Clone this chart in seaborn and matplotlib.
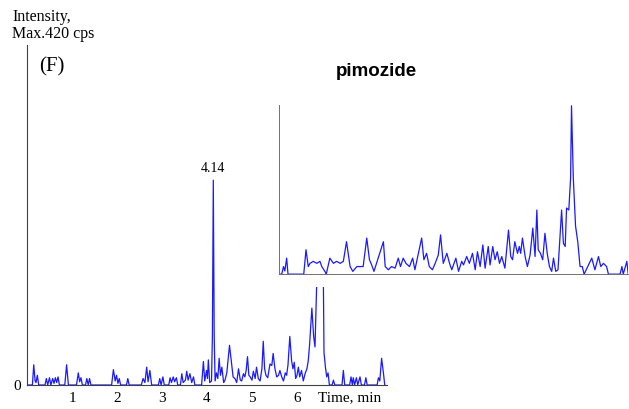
import matplotlib
matplotlib.use("Agg")
import matplotlib.pyplot as plt
import seaborn as sns
import pandas as pd
import numpy as np

# ---- chromatogram (F): retention time (min) and intensity (cps) ----
main_time = [
    0.00, 0.12, 0.15, 0.18, 0.20, 0.23, 0.26,
    0.40, 0.43, 0.46, 0.50, 0.53, 0.57, 0.60, 0.63, 0.66, 0.69, 0.72,
    0.84, 0.88, 0.92,
    1.10, 1.14, 1.17, 1.20, 1.23, 1.30, 1.33, 1.36, 1.39, 1.42,
    1.88, 1.92, 1.96, 1.99, 2.02, 2.05, 2.08,
    2.21, 2.24, 2.27,
    2.54, 2.58, 2.62, 2.66, 2.69, 2.73, 2.77,
    2.92, 2.95, 2.98, 3.02, 3.05, 3.15, 3.18, 3.21, 3.25, 3.28, 3.32, 3.35,
    3.41, 3.44, 3.47, 3.52, 3.55, 3.58, 3.62, 3.66, 3.70, 3.73,
    3.88, 3.92, 3.95, 3.99, 4.01, 4.03, 4.06, 4.10, 4.12, 4.14, 4.16, 4.18,
    4.21, 4.24, 4.27, 4.30, 4.33, 4.37, 4.40, 4.44, 4.50, 4.55, 4.58, 4.62,
    4.66, 4.70, 4.74, 4.77, 4.81, 4.84, 4.87, 4.90, 4.93, 4.96, 5.00, 5.03,
    5.07, 5.10, 5.14, 5.18, 5.22, 5.25, 5.28, 5.31, 5.35, 5.40, 5.44, 5.47,
    5.51, 5.55, 5.59, 5.62, 5.66, 5.70, 5.74, 5.77, 5.80, 5.84, 5.88, 5.91,
    5.94, 5.97, 6.00, 6.03, 6.06, 6.10, 6.14, 6.18, 6.22, 6.25, 6.28, 6.33,
    6.37, 6.40, 6.44, 6.47, 6.515, 6.56, 6.60, 6.63, 6.66, 6.69, 6.72,
    6.78, 6.81, 6.84, 7.00, 7.03, 7.06, 7.17, 7.20, 7.23, 7.25, 7.28, 7.32,
    7.35, 7.40, 7.43, 7.50, 7.53, 7.56, 7.78, 7.81, 7.84, 7.88, 7.92, 7.95,
]
main_cps = [
    0, 0, 25, 5, 3, 12, 0,
    0, 8, 0, 9, 0, 8, 2, 9, 3, 10, 0,
    0, 25, 0,
    0, 15, 4, 9, 0, 0, 8, 0, 8, 0,
    0, 19, 5, 12, 2, 8, 0,
    0, 8, 0,
    0, 8, 3, 22, 4, 18, 0,
    0, 8, 0, 10, 0, 0, 9, 3, 10, 4, 9, 0,
    0, 14, 3, 6, 17, 6, 14, 3, 10, 0,
    0, 29, 5, 18, 8, 31, 3, 5, 60, 253, 60, 5,
    15, 8, 33, 12, 22, 3, 6, 15, 49, 25, 10, 8,
    3, 20, 6, 5, 14, 10, 18, 35, 12, 10, 6, 17,
    8, 22, 8, 5, 20, 54, 20, 12, 9, 26, 24, 39,
    20, 10, 12, 18, 10, 5, 15, 12, 25, 60, 30, 20,
    28, 8, 12, 22, 10, 18, 5, 14, 20, 30, 50, 95,
    60, 47, 130, 300, 200, 290, 40, 23, 10, 15, 0,
    0, 6, 0, 0, 18, 0, 0, 10, 0, 9, 0, 9,
    0, 10, 0, 0, 9, 0, 0, 9, 5, 33, 15, 0,
]

# ---- pimozide trace (inset), relative intensity ----
pim_time = [
    0.00, 0.06, 0.10, 0.13, 0.17, 0.20,
    0.55, 0.60, 0.65, 0.69, 0.76, 0.84, 0.91, 0.95, 1.02, 1.05,
    1.13, 1.21, 1.28, 1.36, 1.43, 1.50, 1.58, 1.64, 1.73, 1.80, 1.87, 1.95,
    2.01, 2.06, 2.11, 2.32, 2.36, 2.43, 2.50, 2.58, 2.65, 2.70, 2.76, 2.82,
    2.90, 2.97, 3.02, 3.17, 3.22, 3.28, 3.34, 3.41, 3.47, 3.54, 3.59, 3.65,
    3.73, 3.79, 3.84, 3.93, 3.99, 4.06, 4.10, 4.17, 4.23, 4.30, 4.36, 4.41,
    4.47, 4.53, 4.58, 4.65, 4.69, 4.75, 4.80, 4.85, 4.90, 4.95, 5.02, 5.10,
    5.15, 5.19, 5.24, 5.30, 5.34, 5.37, 5.41, 5.47, 5.52, 5.58, 5.64, 5.69,
    5.73, 5.76, 5.81, 5.86, 5.91, 5.96, 6.01, 6.06, 6.10, 6.15, 6.20, 6.28,
    6.32, 6.36, 6.39, 6.44, 6.48, 6.50, 6.54, 6.59, 6.64, 6.69, 6.74, 6.78,
    6.95, 7.02, 7.10, 7.15, 7.21, 7.28, 7.32, 7.58, 7.62, 7.65, 7.73, 7.76,
]
pim_int = [
    0, 0, 1.9, 0.8, 4.0, 0,
    0, 6.1, 1.9, 2.7, 3.2, 2.7, 3.2, 1.9, 0.7, 0,
    4.0, 2.7, 3.2, 2.7, 3.2, 8.1, 1.9, 0.7, 1.9, 1.9, 1.9, 9.0,
    3.6, 2.3, 0.7, 8.1, 1.9, 1.1, 1.9, 1.5, 4.0, 1.9, 4.0, 2.7,
    1.9, 4.0, 1.1, 9.0, 3.6, 5.2, 1.9, 1.1, 2.7, 4.8, 9.8, 2.7,
    5.2, 2.7, 1.1, 4.0, 0.7, 3.2, 2.3, 4.4, 2.7, 5.2, 1.1, 5.6,
    1.9, 7.3, 1.5, 6.9, 2.3, 6.9, 3.6, 5.6, 2.7, 4.4, 1.5, 11.0,
    4.4, 3.6, 8.1, 5.2, 6.9, 5.2, 9.0, 4.4, 1.9, 4.8, 11.5, 4.4,
    16.0, 6.1, 5.2, 3.6, 10.2, 5.2, 1.9, 0.7, 4.0, 0.7, 1.1, 16.0,
    7.7, 6.9, 16.5, 16.0, 24.0, 42.0, 24.0, 12.0, 8.0, 1.9, 1.9, 0,
    4.0, 1.1, 4.4, 1.9, 2.7, 1.9, 0, 0, 1.9, 0, 3.2, 0,
]

apex_time = 4.14
apex_cps = 253
max_cps = 420

main_df = pd.DataFrame({"time": main_time, "cps": main_cps})
pim_df = pd.DataFrame({"time": pim_time, "intensity": pim_int})

sns.set_style("white")
plt.rcParams["font.family"] = ["Liberation Serif", "DejaVu Serif"]
plt.rcParams["axes.linewidth"] = 0.8
plt.rcParams["text.color"] = "black"
plt.rcParams["xtick.labelcolor"] = "black"
plt.rcParams["ytick.labelcolor"] = "black"

trace_color = "#1a1aff"
axis_color = "#404040"

fig = plt.figure(figsize=(6.29, 4.09), dpi=100)

# ---- main chromatogram ----
ax = fig.add_axes([27 / 629, 24 / 409, 360 / 629, 340 / 409])
sns.lineplot(data=main_df, x="time", y="cps", ax=ax, color=trace_color,
             lw=0.9, estimator=None, sort=False)
ax.set_xlim(0, 8.0)
ax.set_ylim(0, max_cps)
ax.set_xlabel("")
ax.set_ylabel("")
for s in ("top", "right"):
    ax.spines[s].set_visible(False)
for s in ("left", "bottom"):
    ax.spines[s].set_color(axis_color)

xt = np.arange(0.5, 8.0, 0.5)
ax.set_xticks(xt)
ax.set_xticklabels([f"{v:.0f}" if (v % 1 == 0 and v <= 6) else "" for v in xt])
yt = np.arange(0, 401, 50)
ax.set_yticks(yt)
ax.set_yticklabels(["0"] + [""] * (len(yt) - 1))
ax.tick_params(axis="x", direction="out", length=3, width=0.7,
               color=axis_color, labelcolor="black", labelsize=11, pad=2)
ax.tick_params(axis="y", direction="out", length=2.5, width=0.7,
               color=axis_color, labelcolor="black", labelsize=11, pad=2)
ax.text(7.17, -0.037, "Time, min", transform=ax.get_xaxis_transform(),
        ha="center", va="center", fontsize=11, color="black")
ax.text(apex_time, apex_cps + 6, f"{apex_time:.2f}", ha="center",
        va="bottom", fontsize=10, color="black")
ax.text(0.035, 0.937, "(F)", transform=ax.transAxes, ha="left",
        va="center", fontsize=15, color="black")

# y-axis caption, two lines above the axis
fig.text(12 / 629, 1 - 21 / 409, "Intensity,", ha="left", va="baseline",
         fontsize=11.5, color="black")
fig.text(12 / 629, 1 - 38 / 409, f"Max.{max_cps} cps", ha="left",
         va="baseline", fontsize=11.5, color="black")

# ---- pimozide inset ----
inset_top = 42.2
inset_low = -3.2
ins = fig.add_axes([279 / 629, (409 - 287) / 409, 349 / 629, 182 / 409])
ins.set_facecolor("white")
sns.lineplot(data=pim_df, x="time", y="intensity", ax=ins, color=trace_color,
             lw=0.9, estimator=None, sort=False)
ins.set_xlim(0, 349 / 45)
ins.set_ylim(inset_low, inset_top)
ins.set_xlabel("")
ins.set_ylabel("")
ins.spines["top"].set_visible(False)
ins.spines["right"].set_visible(False)
ins.spines["bottom"].set_position(("data", 0))
ins.spines["left"].set_bounds(0, inset_top)
for s in ("left", "bottom"):
    ins.spines[s].set_color("#707070")
    ins.spines[s].set_linewidth(0.7)
ins.set_xticks(np.arange(0.5, 7.7, 0.5))
ins.set_xticklabels([])
ins.set_yticks(np.arange(2, 42.1, 2))
ins.set_yticklabels([])
ins.tick_params(axis="both", direction="out", length=1.5, width=0.5,
                color="#707070")
fig.text(376 / 629, 1 - 72 / 409, "pimozide", ha="center", va="center",
         fontsize=13.5, fontweight="bold", color="black",
         family=["Liberation Sans", "DejaVu Sans"])

fig.savefig("out.png", dpi=100)
